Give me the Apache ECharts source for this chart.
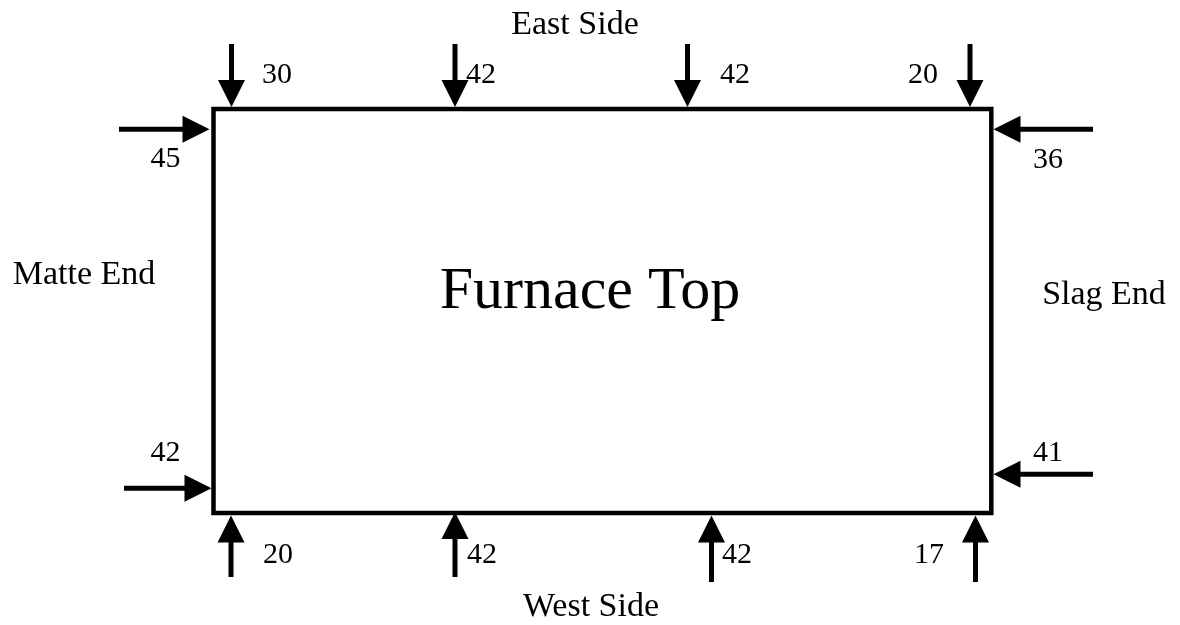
<!DOCTYPE html>
<html>
<head>
<meta charset="utf-8">
<script src="https://cdn.jsdelivr.net/npm/echarts@6/dist/echarts.min.js"></script>
<style>
html,body{margin:0;padding:0;background:#fff;}
#chart{width:1180px;height:625px;}
</style>
</head>
<body>
<div id="chart"></div>
<script>
// ---- data ----
const centerTitle = 'Furnace Top';
const sideNames = ['East Side', 'West Side', 'Matte End', 'Slag End'];
const eastValues = [30, 42, 42, 20];
const westValues = [20, 42, 42, 17];
const matteValues = [45, 42];
const slagValues = [36, 41];

// positions in axis units (diagram space)
const furnaceBox = [213.5, 109, 991.3, 513];
const eastArrowX = [231.5, 455, 687.5, 970];
const westArrowX = [231, 455, 711.5, 975.5];
const matteArrowY = [129.3, 488.3];
const slagArrowY = [129.3, 474.3];
const eastLabelX = [277, 481, 735, 923];
const westLabelX = [278, 482, 737, 929];
const matteLabelY = [159, 453];
const slagLabelY = [160, 453];
const sideLabelPos = [[575, 25], [591, 607.5], [84, 275.5], [1104, 295]];
const titlePos = [590, 292.5];

// ---- build arrows: [tailX, tailY, tipX, tipY] ----
const arrows = [];
eastArrowX.forEach(x => arrows.push([x, 44, x, 107]));
westArrowX.forEach((x, i) => arrows.push([x, i < 2 ? 577 : 582, x, i === 1 ? 512 : 515.5]));
arrows.push([119, matteArrowY[0], 209.5, matteArrowY[0]]);
arrows.push([124, matteArrowY[1], 211.5, matteArrowY[1]]);
slagArrowY.forEach(y => arrows.push([1093, y, 993.5, y]));

// ---- build labels ----
const labelTexts = [];
const labelPts = [];
eastValues.forEach((v, i) => { labelTexts.push(String(v)); labelPts.push([eastLabelX[i], 75]); });
westValues.forEach((v, i) => { labelTexts.push(String(v)); labelPts.push([westLabelX[i], 555]); });
matteValues.forEach((v, i) => { labelTexts.push(String(v)); labelPts.push([165.5, matteLabelY[i]]); });
slagValues.forEach((v, i) => { labelTexts.push(String(v)); labelPts.push([1048, slagLabelY[i]]); });

const sideTexts = sideNames.slice();
const FONT = '"Liberation Serif", "Times New Roman", serif';

const chart = echarts.init(document.getElementById('chart'));
chart.setOption({
  animation: false,
  backgroundColor: '#ffffff',
  grid: { left: 0, right: 0, top: 0, bottom: 0 },
  xAxis: { type: 'value', min: 0, max: 1180, show: false },
  yAxis: { type: 'value', min: 0, max: 625, inverse: true, show: false },
  series: [
    {
      type: 'custom', name: 'box', clip: false,
      data: [furnaceBox],
      renderItem: function (params, api) {
        const a = api.coord([api.value(0), api.value(1)]);
        const b = api.coord([api.value(2), api.value(3)]);
        return {
          type: 'rect',
          shape: { x: a[0], y: a[1], width: b[0] - a[0], height: b[1] - a[1] },
          style: { fill: 'none', stroke: '#000', lineWidth: 4.5 }
        };
      }
    },
    {
      type: 'custom', name: 'arrows', clip: false,
      data: arrows,
      renderItem: function (params, api) {
        const t = api.coord([api.value(0), api.value(1)]);
        const h = api.coord([api.value(2), api.value(3)]);
        const dx = h[0] - t[0], dy = h[1] - t[1];
        const len = Math.sqrt(dx * dx + dy * dy);
        const ux = dx / len, uy = dy / len;
        const headLen = 27, headHalf = 13.5;
        const bx = h[0] - ux * headLen, by = h[1] - uy * headLen;
        const px = -uy, py = ux;
        return {
          type: 'group',
          children: [
            {
              type: 'line',
              shape: { x1: t[0], y1: t[1], x2: bx + ux * 1, y2: by + uy * 1 },
              style: { stroke: '#000', lineWidth: 5 }
            },
            {
              type: 'polygon',
              shape: { points: [[h[0], h[1]], [bx + px * headHalf, by + py * headHalf], [bx - px * headHalf, by - py * headHalf]] },
              style: { fill: '#000' }
            }
          ]
        };
      }
    },
    {
      type: 'custom', name: 'values', clip: false,
      data: labelPts,
      renderItem: function (params, api) {
        const p = api.coord([api.value(0), api.value(1)]);
        return {
          type: 'text', x: p[0], y: p[1],
          style: {
            text: labelTexts[params.dataIndex], fill: '#000',
            font: '30px ' + FONT, align: 'center', verticalAlign: 'middle'
          }
        };
      }
    },
    {
      type: 'custom', name: 'sides', clip: false,
      data: sideLabelPos,
      renderItem: function (params, api) {
        const p = api.coord([api.value(0), api.value(1)]);
        return {
          type: 'text', x: p[0], y: p[1],
          style: {
            text: sideTexts[params.dataIndex], fill: '#000',
            font: '34px ' + FONT, align: 'center', verticalAlign: 'middle'
          }
        };
      }
    },
    {
      type: 'custom', name: 'title', clip: false,
      data: [titlePos],
      renderItem: function (params, api) {
        const p = api.coord([api.value(0), api.value(1)]);
        return {
          type: 'text', x: p[0], y: p[1],
          style: {
            text: centerTitle, fill: '#000',
            font: '60px ' + FONT, align: 'center', verticalAlign: 'middle'
          }
        };
      }
    }
  ]
});
</script>
</body>
</html>
